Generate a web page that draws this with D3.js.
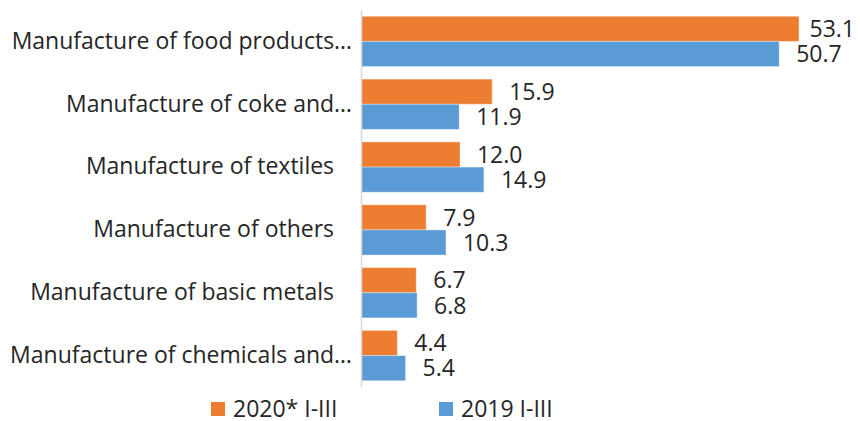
<!DOCTYPE html>
<html>
<head>
<meta charset="utf-8">
<script src="https://cdn.jsdelivr.net/npm/d3@7"></script>
<style>
  html, body { margin: 0; padding: 0; background: #ffffff; }
  svg { display: block; font-family: "Open Sans", "Noto Sans", sans-serif; }
</style>
</head>
<body>
<svg id="chart" width="860" height="421"></svg>
<script>
// Categories (top to bottom) and the two series, share in %
const categories = [
  "Manufacture of food products\u2026",
  "Manufacture of coke and\u2026",
  "Manufacture of textiles ",
  "Manufacture of others ",
  "Manufacture of basic metals ",
  "Manufacture of chemicals and\u2026"
];
const series2020 = [53.1, 15.9, 12.0, 7.9, 6.7, 4.4];
const series2019 = [50.7, 11.9, 14.9, 10.3, 6.8, 5.4];
const seriesNames = ["2020* I-III", "2019 I-III"];
const seriesColors = ["#ED7D31", "#5B9BD5"];

const W = 860, H = 421;
const margin = { top: 10, right: 10, bottom: 34, left: 361 };
const plotWidth = 438;
const fontSize = 23;
const textColor = "#262626";

const svg = d3.select("#chart");

const rows = categories.map((c, i) => ({
  category: c,
  values: [series2020[i], series2019[i]]
}));

const x = d3.scaleLinear()
  .domain([0, d3.max(series2020.concat(series2019))])
  .range([margin.left, margin.left + plotWidth]);

const y = d3.scaleBand()
  .domain(categories)
  .range([margin.top, H - margin.bottom])
  .paddingInner(0.2)
  .paddingOuter(0.1);

const ySub = d3.scaleBand()
  .domain([0, 1])
  .range([0, y.bandwidth()]);

// Bars
const groups = svg.append("g")
  .selectAll("g")
  .data(rows)
  .join("g")
  .attr("transform", d => `translate(0,${y(d.category)})`);

groups.selectAll("rect")
  .data(d => d.values.map((v, s) => ({ v, s })))
  .join("rect")
  .attr("x", x(0))
  .attr("y", d => ySub(d.s))
  .attr("width", d => x(d.v) - x(0))
  .attr("height", ySub.bandwidth())
  .attr("fill", d => seriesColors[d.s])
  .attr("stroke", "#ffffff")
  .attr("stroke-opacity", 0.35)
  .attr("stroke-width", 1);

// Value labels, kept inside the plot area on the right
const labelMaxRight = W - 5;
groups.selectAll("text.value")
  .data(d => d.values.map((v, s) => ({ v, s })))
  .join("text")
  .attr("class", "value")
  .attr("y", d => ySub(d.s) + ySub.bandwidth() / 2)
  .attr("dy", "0.36em")
  .attr("font-size", fontSize)
  .attr("fill", textColor)
  .text(d => d.v.toFixed(1))
  .each(function (d) {
    const w = this.getComputedTextLength();
    const pos = Math.min(x(d.v) + 17, labelMaxRight - w);
    d3.select(this).attr("x", pos);
  });

// Category axis: vertical line plus right-aligned labels.
// Untruncated labels end in a space; it is widened with no-break spaces
// so those labels sit a little further from the axis.
const yAxis = d3.axisLeft(y)
  .tickSize(0)
  .tickPadding(9)
  .tickFormat(d => d.replace(/ $/, "\u00A0\u00A0\u00A0"));
const axisG = svg.append("g")
  .attr("transform", `translate(${x(0)},0)`)
  .call(yAxis);
axisG.select(".domain")
  .attr("stroke", "#d9d9d9")
  .attr("stroke-width", 1.5);
axisG.selectAll(".tick text")
  .attr("font-size", fontSize)
  .attr("font-family", "\"Open Sans\", \"Noto Sans\", sans-serif")
  .attr("fill", textColor);

// Legend
const legendItems = [
  { name: seriesNames[0], color: seriesColors[0], x: 211 },
  { name: seriesNames[1], color: seriesColors[1], x: 439 }
];
const legend = svg.append("g").attr("transform", `translate(0,${H - 12})`);
const li = legend.selectAll("g")
  .data(legendItems)
  .join("g")
  .attr("transform", d => `translate(${d.x},0)`);
li.append("rect")
  .attr("x", 0).attr("y", -7)
  .attr("width", 14).attr("height", 14)
  .attr("fill", d => d.color);
li.append("text")
  .attr("x", 22)
  .attr("dy", "0.36em")
  .attr("font-size", fontSize)
  .attr("fill", textColor)
  .text(d => d.name);
</script>
</body>
</html>
